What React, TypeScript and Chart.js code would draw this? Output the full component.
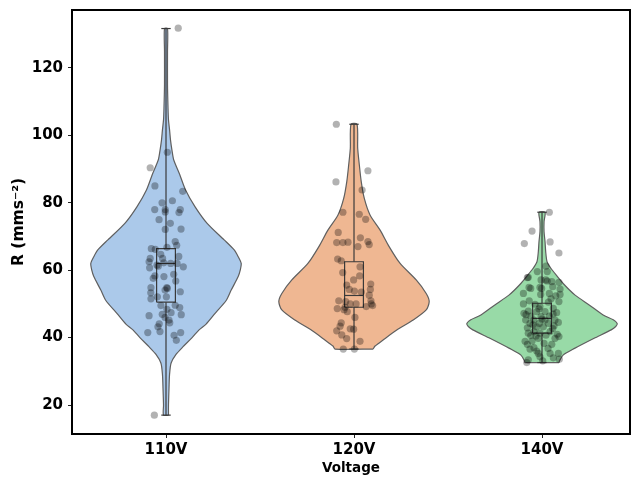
import React, { useEffect, useRef } from 'react';
import { Chart, registerables } from 'chart.js';
Chart.register(...registerables);

const categories = ['110V', '120V', '140V'];
const yTickValues = [20, 40, 60, 80, 100, 120];
const yTitle = 'R (mms⁻²)';
const xTitle = 'Voltage';

const violinColors = ['#abc9ea', '#efb792', '#98daa7'];

// violin outlines: value levels and relative half-width (1 = widest)
const levels110 = [17, 20, 25, 29, 32.4, 35, 37.3, 40, 42.3, 44, 47.2, 51, 54.1, 58.1, 60, 62, 64, 66, 69, 73.9, 78.8, 83.8, 88.7, 92.7, 95.5, 98.6, 101.7, 104.6, 108, 115, 125, 131.7];
const widths110 = [0.033, 0.033, 0.04, 0.047, 0.067, 0.133, 0.227, 0.347, 0.44, 0.533, 0.653, 0.8, 0.867, 0.96, 0.987, 1, 0.96, 0.907, 0.773, 0.547, 0.387, 0.26, 0.177, 0.103, 0.08, 0.06, 0.047, 0.033, 0.027, 0.02, 0.02, 0.02];
const levels120 = [36.6, 37.5, 39.3, 42.3, 45.2, 48.2, 50.7, 53.1, 57.1, 62.0, 67.0, 71.9, 76.4, 81.3, 86.3, 91.2, 96.2, 103.3];
const widths120 = [0.253, 0.28, 0.387, 0.573, 0.787, 0.96, 1, 0.96, 0.827, 0.613, 0.467, 0.347, 0.213, 0.137, 0.096, 0.071, 0.049, 0.04];
const levels140 = [32.6, 33.1, 34.8, 36.8, 39.8, 42.3, 43.3, 44.2, 45.3, 46.7, 49.7, 52.6, 55.6, 58.6, 60.5, 62.5, 65.5, 68.5, 71.4, 74.4, 77.2];
const widths140 = [0.227, 0.233, 0.28, 0.433, 0.693, 0.92, 0.98, 1, 0.947, 0.813, 0.627, 0.44, 0.3, 0.187, 0.12, 0.067, 0.049, 0.04, 0.027, 0.027, 0.04];

// box plot statistics
const boxMin = [17.0, 36.6, 32.6];
const boxQ1 = [50.5, 49.0, 41.3];
const boxMedian = [62.0, 52.5, 45.7];
const boxQ3 = [66.4, 62.5, 50.2];
const boxMax = [131.7, 103.3, 77.2];

// individual observations (value) and their strip jitter (category units)
const points110 = [131.8, 95.0, 90.4, 85.0, 83.4, 80.6, 80.0, 78.0, 78.0, 78.0, 77.3, 77.1, 75.0, 73.9, 72.1, 72.2, 68.5, 67.4, 66.4, 66.8, 66.2, 64.7, 63.5, 63.5, 64.1, 62.5, 61.5, 62.2, 62.0, 62.0, 61.0, 60.7, 61.2, 58.3, 58.1, 58.8, 57.6, 56.8, 54.8, 54.8, 53.3, 54.1, 54.6, 53.6, 52.1, 51.5, 52.1, 49.5, 49.6, 48.9, 48.4, 47.4, 46.5, 46.9, 46.8, 46.0, 45.2, 44.4, 44.1, 43.2, 41.5, 41.8, 40.7, 41.5, 39.2, 17.0];
const jitter110 = [0.065, 0.007, -0.084, -0.059, 0.089, 0.034, -0.021, -0.060, -0.004, 0.076, -0.004, 0.069, -0.037, 0.023, -0.004, 0.080, 0.049, 0.057, -0.078, 0.005, -0.057, -0.028, -0.084, -0.018, 0.068, -0.090, -0.048, -0.012, 0.025, 0.059, 0.092, -0.087, -0.041, -0.059, -0.011, 0.041, -0.068, 0.052, -0.080, 0.004, -0.081, -0.005, 0.007, 0.076, -0.046, -0.080, 0.002, -0.027, 0.049, 0.073, 0.005, 0.027, -0.090, -0.020, 0.081, -0.005, 0.016, 0.020, -0.036, -0.043, -0.097, -0.032, 0.043, 0.078, 0.055, -0.062];
const points120 = [103.3, 89.5, 86.2, 83.8, 77.2, 76.6, 75.1, 71.2, 69.6, 68.2, 68.2, 68.3, 67.0, 68.5, 67.6, 63.3, 62.8, 59.3, 61.0, 58.3, 57.1, 55.6, 54.3, 53.8, 53.5, 55.9, 54.3, 52.6, 50.9, 50.0, 49.2, 49.5, 50.9, 50.7, 48.6, 47.7, 50.0, 50.0, 46.0, 44.4, 43.4, 42.0, 42.6, 42.5, 40.8, 39.7, 38.9, 36.6, 36.6, 49.0, 48.3];
const jitter120 = [-0.094, 0.074, -0.096, 0.043, -0.059, 0.028, 0.062, -0.084, 0.034, -0.092, -0.059, -0.032, 0.021, 0.074, 0.081, -0.087, -0.068, -0.060, 0.032, 0.030, -0.002, -0.039, -0.025, 0.002, 0.039, 0.089, 0.087, 0.081, 0.090, 0.092, 0.065, 0.099, -0.081, -0.044, -0.089, -0.036, -0.020, 0.011, 0.005, -0.068, -0.074, -0.092, -0.020, -0.002, -0.065, -0.039, 0.032, -0.057, 0.002, -0.048, -0.053];
const points140 = [77.2, 71.6, 67.9, 68.4, 65.1, 61.2, 59.6, 59.6, 57.9, 57.1, 56.8, 56.6, 56.4, 54.6, 54.6, 53.1, 52.8, 53.1, 52.8, 52.4, 50.9, 50.0, 49.9, 50.5, 50.7, 49.2, 48.7, 47.9, 47.2, 47.7, 47.7, 47.4, 46.4, 46.2, 46.4, 45.2, 45.2, 45.2, 45.2, 44.2, 44.2, 44.2, 44.5, 42.9, 43.2, 43.2, 42.7, 41.3, 41.8, 41.3, 41.8, 41.0, 40.3, 40.6, 39.8, 39.8, 38.0, 38.3, 38.0, 37.0, 36.6, 36.0, 35.3, 35.3, 35.3, 34.3, 34.0, 33.6, 33.4, 33.1, 32.6, 57.8, 57.1, 54.9, 54.9, 55.1, 54.4, 43.8, 46.8, 47.0, 40.5, 40.7, 39.0, 36.8, 38.9, 45.5, 43.5, 48.5, 51.5];
const jitter140 = [0.039, -0.053, -0.094, 0.043, 0.090, 0.021, -0.025, 0.028, -0.073, -0.005, 0.028, 0.052, 0.090, -0.060, -0.002, -0.099, -0.007, 0.039, 0.096, 0.073, -0.068, -0.099, -0.037, 0.034, 0.090, -0.011, 0.060, -0.073, -0.096, -0.028, 0.016, 0.078, -0.059, -0.005, 0.039, -0.087, -0.043, 0.016, 0.069, -0.064, -0.014, 0.034, 0.087, -0.078, -0.028, 0.007, 0.057, -0.073, -0.043, -0.011, 0.043, 0.081, 0.090, -0.060, -0.020, 0.069, -0.078, 0.011, 0.052, -0.043, -0.064, -0.028, -0.020, 0.043, 0.087, -0.011, 0.060, 0.092, -0.073, 0.004, -0.081, -0.078, 0.020, -0.069, -0.011, 0.057, 0.096, -0.048, -0.085, 0.059, -0.032, 0.021, -0.053, 0.032, -0.090, 0, 0.064, -0.016, 0.048];

const VIOLIN_HALF = 0.4;
const BOX_HALF = 0.05;
const CAP_HALF = 0.025;
const FONT = 'DejaVu Sans';

function outline(center: number, levels: number[], widths: number[]) {
  const right = levels.map((y, i) => ({ x: center + widths[i] * VIOLIN_HALF, y }));
  const left = levels.map((y, i) => ({ x: center - widths[i] * VIOLIN_HALF, y })).reverse();
  return [...right, ...left, right[0]];
}

const framePlugin = {
  id: 'frame',
  afterDraw(chart: any) {
    const { ctx, chartArea } = chart;
    ctx.save();
    ctx.strokeStyle = '#000';
    ctx.lineWidth = 2;
    ctx.strokeRect(chartArea.left, chartArea.top, chartArea.right - chartArea.left, chartArea.bottom - chartArea.top);
    ctx.restore();
  },
};

export default function App() {
  const ref = useRef<HTMLCanvasElement>(null);
  useEffect(() => {
    const groups = [
      { levels: levels110, widths: widths110, values: points110, jitter: jitter110 },
      { levels: levels120, widths: widths120, values: points120, jitter: jitter120 },
      { levels: levels140, widths: widths140, values: points140, jitter: jitter140 },
    ];
    const datasets: any[] = [];
    groups.forEach((g, i) => {
      datasets.push({
        type: 'line',
        data: outline(i, g.levels, g.widths),
        borderColor: '#5f5f5f',
        borderWidth: 1.2,
        backgroundColor: violinColors[i],
        fill: 'shape',
        tension: 0.25,
        pointRadius: 0,
        order: 3,
      });
      const seg = (pts: { x: number; y: number }[]) =>
        datasets.push({
          type: 'line',
          data: pts,
          borderColor: '#3a3a3a',
          borderWidth: 1.2,
          fill: false,
          tension: 0,
          pointRadius: 0,
          order: 2,
        });
      seg([
        { x: i - BOX_HALF, y: boxQ1[i] },
        { x: i + BOX_HALF, y: boxQ1[i] },
        { x: i + BOX_HALF, y: boxQ3[i] },
        { x: i - BOX_HALF, y: boxQ3[i] },
        { x: i - BOX_HALF, y: boxQ1[i] },
      ]);
      seg([{ x: i - BOX_HALF, y: boxMedian[i] }, { x: i + BOX_HALF, y: boxMedian[i] }]);
      seg([{ x: i, y: boxQ3[i] }, { x: i, y: boxMax[i] }]);
      seg([{ x: i, y: boxQ1[i] }, { x: i, y: boxMin[i] }]);
      seg([{ x: i - CAP_HALF, y: boxMax[i] }, { x: i + CAP_HALF, y: boxMax[i] }]);
      seg([{ x: i - CAP_HALF, y: boxMin[i] }, { x: i + CAP_HALF, y: boxMin[i] }]);
      datasets.push({
        type: 'scatter',
        data: g.values.map((v, k) => ({ x: i + g.jitter[k], y: v })),
        pointRadius: 3.6,
        pointBackgroundColor: 'rgba(0,0,0,0.3)',
        pointBorderWidth: 0,
        order: 1,
      });
    });

    const chart = new Chart(ref.current as HTMLCanvasElement, {
      type: 'scatter',
      data: { datasets },
      plugins: [framePlugin],
      options: {
        animation: false,
        responsive: false,
        maintainAspectRatio: false,
        layout: { autoPadding: false, padding: { top: 10, right: 1, left: 0, bottom: 0 } },
        plugins: { legend: { display: false }, tooltip: { enabled: false } },
        scales: {
          x: {
            type: 'linear',
            min: -0.5,
            max: 2.468,
            afterBuildTicks: (s: any) => {
              s.ticks = [0, 1, 2].map((v) => ({ value: v }));
            },
            afterFit: (s: any) => {
              s.height = 43;
              s.paddingLeft = 0;
              s.paddingRight = 0;
              s.paddingTop = 0;
              s.paddingBottom = 0;
            },
            ticks: {
              callback: (v: any) => categories[v],
              font: { family: FONT, size: 15, weight: 'bold' },
              color: '#000',
              padding: 3,
              maxRotation: 0,
              autoSkip: false,
            },
            grid: { display: true, drawOnChartArea: false, drawTicks: true, tickLength: 4, color: '#222', lineWidth: 1 },
            border: { display: false },
            title: {
              display: true,
              text: xTitle,
              font: { family: FONT, size: 13.5, weight: 'bold' },
              color: '#000',
              padding: { top: 0, bottom: 0.5 },
            },
          },
          y: {
            type: 'linear',
            min: 11.4,
            max: 137.2,
            afterBuildTicks: (s: any) => {
              s.ticks = yTickValues.map((v) => ({ value: v }));
            },
            afterFit: (s: any) => {
              s.width = 72;
              s.paddingLeft = 0;
              s.paddingRight = 0;
              s.paddingTop = 0;
              s.paddingBottom = 0;
            },
            ticks: {
              font: { family: FONT, size: 15, weight: 'bold' },
              color: '#000',
              padding: 5,
            },
            grid: { display: true, drawOnChartArea: false, drawTicks: true, tickLength: 4, color: '#222', lineWidth: 1 },
            border: { display: false },
            title: {
              display: true,
              text: yTitle,
              font: { family: FONT, size: 15.5, weight: 'bold' },
              color: '#000',
              padding: { top: 10, bottom: 0 },
            },
          },
        },
      },
    } as any);
    return () => chart.destroy();
  }, []);
  return (
    <div style={{ position: 'fixed', left: 0, top: 0, width: 631, height: 477, background: '#fff' }}>
      <canvas ref={ref} width={631} height={477} style={{ width: 631, height: 477 }} />
    </div>
  );
}
